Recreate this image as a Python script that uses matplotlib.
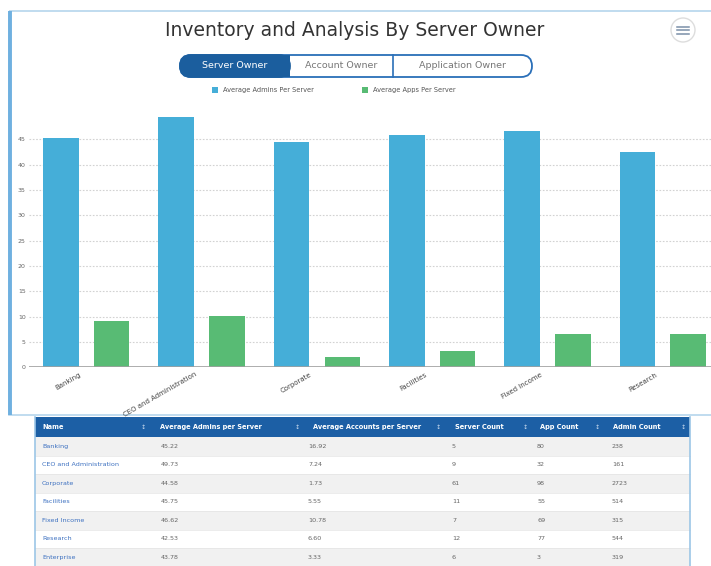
import matplotlib
matplotlib.use("Agg")
import matplotlib.pyplot as plt
from matplotlib.patches import Rectangle, FancyBboxPatch, Circle
from matplotlib import transforms as mtrans

# ---------------- data ----------------
categories = ['Banking', 'CEO and Administration', 'Corporate', 'Facilities',
              'Fixed Income', 'Research']
avg_admins = [45.3, 49.5, 44.5, 45.8, 46.6, 42.5]
avg_apps = [9.2, 10.1, 2.1, 3.3, 6.6, 6.6]
y_ticks = [0, 5, 10, 15, 20, 25, 30, 35, 40, 45]

series_names = ['Average Admins Per Server', 'Average Apps Per Server']
buttons = ['Server Owner', 'Account Owner', 'Application Owner']
title = 'Inventory and Analysis By Server Owner'

table_header = ['Name', 'Average Admins per Server', 'Average Accounts per Server',
                'Server Count', 'App Count', 'Admin Count']
table_names = ['Banking', 'CEO and Administration', 'Corporate', 'Facilities',
               'Fixed Income', 'Research', 'Enterprise']
table_avg_admins = ['45.22', '49.73', '44.58', '45.75', '46.62', '42.53', '43.78']
table_avg_accounts = ['16.92', '7.24', '1.73', '5.55', '10.78', '6.60', '3.33']
table_server_count = ['5', '9', '61', '11', '7', '12', '6']
table_app_count = ['80', '32', '98', '55', '69', '77', '3']
table_admin_count = ['238', '161', '2723', '514', '315', '544', '319']

BLUE = '#45aed8'
GREEN = '#58bb74'
W, H = 711, 566

fig = plt.figure(figsize=(W / 100, H / 100), dpi=100)
fig.patch.set_facecolor('white')

# overlay axes in pixel coordinates
ov = fig.add_axes([0, 0, 1, 1], zorder=0)
ov.set_xlim(0, W)
ov.set_ylim(H, 0)
ov.axis('off')

# card
ov.add_patch(Rectangle((9, 11), 760, 404, fill=False, ec='#b5d6ec', lw=1.2))
ov.plot([10, 10], [11, 415], color='#6fb0e0', lw=2.8, solid_capstyle='butt')

# title
ov.text(355, 30, title, ha='center', va='center', fontsize=13.5, color='#333333')

# menu icon
ov.add_patch(Circle((683, 30), 12, fc='white', ec='#dddddd', lw=1))
for dy in (-3.5, 0, 3.5):
    ov.plot([677, 689], [30 + dy, 30 + dy], color='#7a8fa8', lw=1.1)

# button group
bx = [180, 290, 393, 532]
by0, by1 = 55, 77
ov.add_patch(FancyBboxPatch((bx[0], by0), bx[3] - bx[0], by1 - by0,
                            boxstyle='round,pad=0,rounding_size=11',
                            fc='white', ec='#2a6fb8', lw=1.3, zorder=2))
ov.add_patch(FancyBboxPatch((bx[0], by0), bx[1] - bx[0], by1 - by0,
                            boxstyle='round,pad=0,rounding_size=11',
                            fc='#1b5e9e', ec='#1b5e9e', lw=1.3, zorder=3))
ov.add_patch(Rectangle((bx[1] - 14, by0), 14, by1 - by0, fc='#1b5e9e',
                       ec='none', zorder=3))
ov.plot([bx[2], bx[2]], [by0, by1], color='#2a6fb8', lw=1.2, zorder=4)
for i, lab in enumerate(buttons):
    ov.text((bx[i] + bx[i + 1]) / 2, 66, lab, ha='center', va='center',
            fontsize=6.8, color='white' if i == 0 else '#777777', zorder=5)

# legend
ov.add_patch(Rectangle((212, 87), 6, 6, fc=BLUE, ec='none'))
ov.text(223, 90, series_names[0], ha='left', va='center', fontsize=4.8, color='#555555')
ov.add_patch(Rectangle((362, 87), 6, 6, fc=GREEN, ec='none'))
ov.text(373, 90, series_names[1], ha='left', va='center', fontsize=4.8, color='#555555')

# ---------------- table ----------------
tx0, tx1 = 35, 690
hy0, hy1 = 417, 437
row_h = 18.5
ov.add_patch(Rectangle((tx0, hy0), tx1 - tx0, hy1 - hy0, fc='#1c5fa5', ec='none'))
col_x = [42, 160, 313, 455, 540, 613]
icon_x = [143, 297, 438, 525, 597, 683]
for cx, ix, lab in zip(col_x, icon_x, table_header):
    ov.text(cx, (hy0 + hy1) / 2, lab, ha='left', va='center', fontsize=4.8,
            color='white', fontweight='bold')
    ov.text(ix, (hy0 + hy1) / 2, '\u2195', ha='center', va='center', fontsize=4.5,
            color='#c9dbef')
val_x = [42, 161, 308, 452, 537, 612]
cols = [table_names, table_avg_admins, table_avg_accounts, table_server_count,
        table_app_count, table_admin_count]
for r in range(len(table_names)):
    y0 = hy1 + r * row_h
    ov.add_patch(Rectangle((tx0, y0), tx1 - tx0, row_h,
                           fc='#f1f1f1' if r % 2 == 0 else 'white', ec='none'))
    ov.plot([tx0, tx1], [y0 + row_h, y0 + row_h], color='#e4e4e4', lw=0.5)
    for c in range(len(cols)):
        ov.text(val_x[c], y0 + row_h / 2, cols[c][r], ha='left', va='center',
                fontsize=4.6, color='#3c70c0' if c == 0 else '#666666')
ov.plot([tx0, tx0], [hy0, H], color='#9cc6e6', lw=1.2)
ov.plot([tx1, tx1], [hy0, H], color='#9cc6e6', lw=1.2)

# ---------------- chart ----------------
left_px, right_px = 28.65, 720.5
top_px, bot_px = 111.5, 367.3
ax = fig.add_axes([left_px / W, 1 - bot_px / H, (right_px - left_px) / W,
                   (bot_px - top_px) / H], zorder=2)
ax.patch.set_alpha(0)
x = list(range(len(categories)))
bw = 0.308
off = 0.22
ax.bar([i - off for i in x], avg_admins, width=bw, color=BLUE, zorder=3)
ax.bar([i + off for i in x], avg_apps, width=bw, color=GREEN, zorder=3)
ax.set_xlim(-0.5, len(categories) - 0.5)
ax.set_ylim(0, 50.5)
ax.set_yticks(y_ticks)
ax.set_yticklabels([str(v) for v in y_ticks], fontsize=4.5, color='#666666')
ax.tick_params(axis='y', length=0, pad=2)
ax.set_xticks([])
for s in ax.spines.values():
    s.set_visible(False)
for v in y_ticks[1:]:
    ax.axhline(v, color='#d2d2d2', lw=0.8, ls=(0, (1.5, 1.5)), zorder=1)
ax.axhline(0, color='#a0a0a0', lw=1.2, zorder=4)

base = mtrans.blended_transform_factory(ax.transData, ax.transAxes)
tr = mtrans.offset_copy(base, fig=fig, x=-7, y=-4, units='dots')
for i, lab in enumerate(categories):
    ax.text(i, 0, lab, transform=tr, rotation=30, ha='right', va='top',
            rotation_mode='anchor', fontsize=5, color='#444444', clip_on=False)

fig.savefig('out.png', dpi=100)
